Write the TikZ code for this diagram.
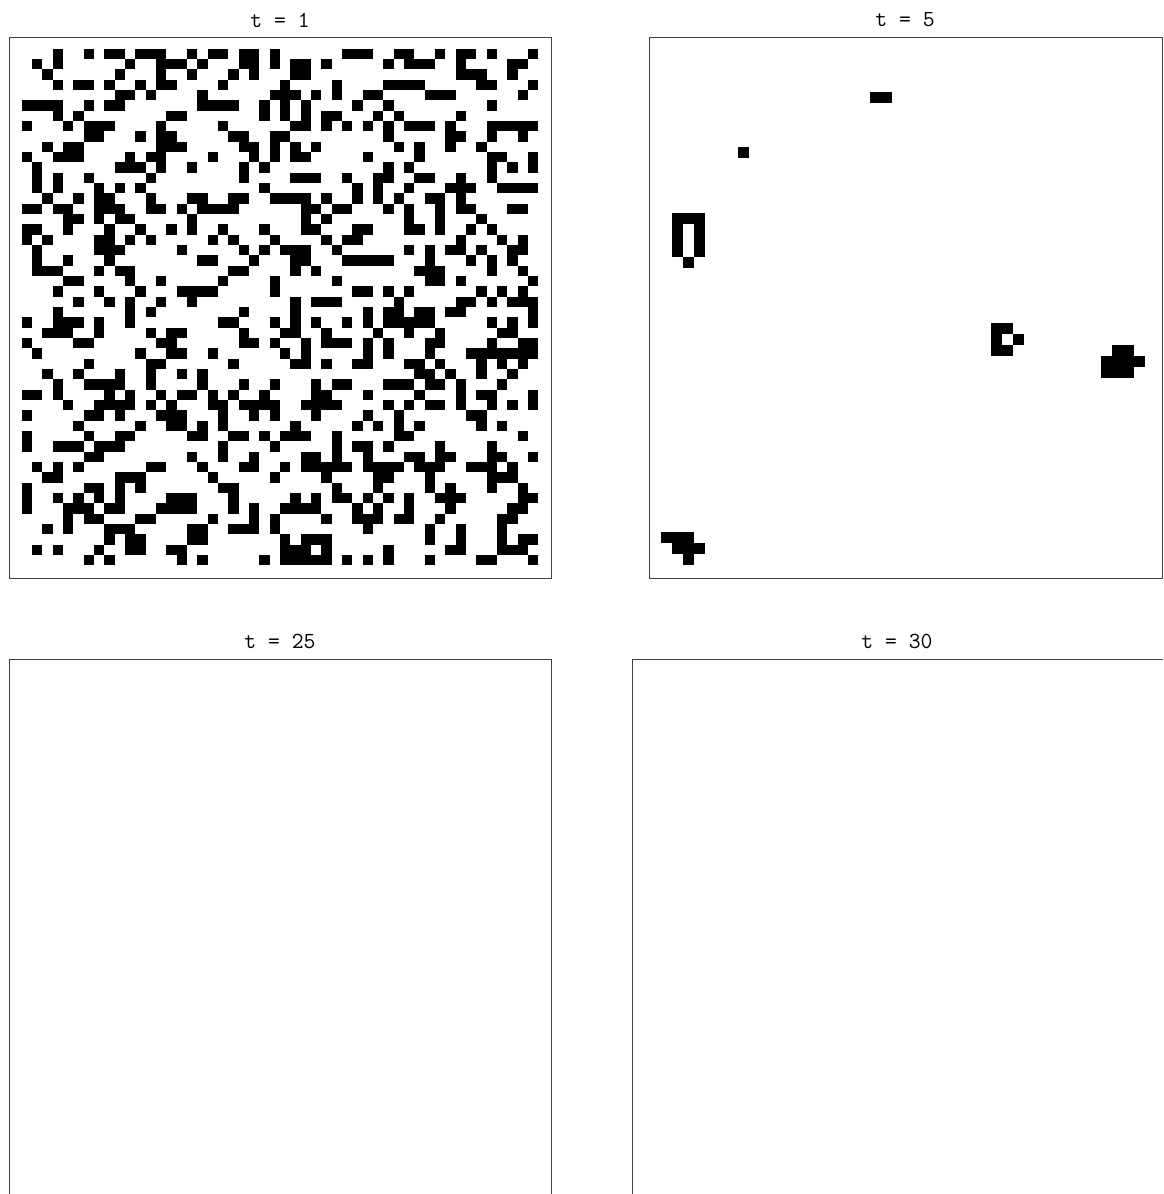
\documentclass[tikz,border=0pt]{standalone}
\usepackage{fontspec}
\begin{document}
\begin{tikzpicture}[x=1pt,y=-1pt,
  frame/.style={draw=black!75, line width=1pt},
  ttl/.style={font=\ttfamily\fontsize{23}{23}\selectfont, text=black, inner sep=0pt}]
\useasboundingbox (0,0) rectangle (1163,1194);
\fill[white] (0,0) rectangle (1163,1194);
% titles
\node[ttl] (t1) at (280,20) {t = 1};
\node[ttl] (t5) at (905,20) {t = 5};
\node[ttl] (t25) at (280,641) {t = 25};
\node[ttl] (t30) at (897,641) {t = 30};
% panel 1 cells
\foreach \r/\cs in {
0/{3,6,8,9,11,12,13,16,18,19,21,22,24,31,32,33,36,37,40,42,43,45,49},
1/{1,3,10,13,14,15,17,21,22,24,26,27,29,35,37,38,39,42,47,48},
2/{2,9,13,16,20,22,26,27,42,43,44,47},
3/{3,5,6,8,11,13,14,19,25,30,35,36,37,38,44,45,49},
4/{9,10,12,17,24,25,26,28,30,33,34,39,40,41,48},
5/{0,1,2,3,6,8,9,17,18,19,20,23,25,27,32,35,45},
6/{3,5,14,15,23,25,27,29,30,34,36,42},
7/{0,4,6,7,8,13,19,26,27,29,31,33,35,37,38,39,41,45,46,47,48,49},
8/{6,7,11,13,14,20,21,24,25,35,41,42,45,48},
9/{2,4,5,13,14,15,21,22,24,26,28,36,38,41,44},
10/{0,3,4,5,10,12,13,18,22,24,26,27,33,38,45,46,49},
11/{1,9,10,11,13,16,21,23,35,37,45,47,49},
12/{1,3,6,12,21,26,27,28,31,34,35,38,39,42,45},
13/{1,3,7,9,11,23,32,34,37,41,42,43,46,47,48,49},
14/{2,5,7,8,12,16,17,20,21,24,25,26,27,29,32,34,36,39,40,42},
15/{0,1,3,4,7,8,9,12,13,15,17,18,19,20,27,28,30,31,35,37,40,42,43,47,48},
16/{4,5,7,9,10,16,27,29,37,40,44},
17/{0,1,4,8,11,14,16,19,23,27,28,32,33,37,38,40,43,45},
18/{0,2,7,8,10,12,18,20,24,29,31,32,42,46,48},
19/{1,7,8,9,15,21,23,25,26,27,30,37,39,41,42,44,47,48},
20/{1,4,8,17,18,22,26,27,31,32,33,34,35,39,43,45,47},
21/{1,2,3,7,9,10,20,21,26,28,38,39,40,45,48},
22/{4,5,10,13,19,24,30,39,40,42,49},
23/{3,7,11,15,16,17,18,24,32,33,35,37,44,46,48},
24/{5,8,10,13,16,26,28,29,30,36,42,43,45,47,48,49},
25/{3,10,12,21,26,33,35,36,38,39,41,42,49},
26/{0,3,4,5,7,10,19,20,24,26,28,31,33,35,36,37,38,39,45,47,49},
27/{2,3,4,7,12,14,15,21,25,26,29,34,37,40,46,47},
28/{0,5,6,13,14,21,22,24,27,29,30,31,33,35,39,40,45,48,49},
29/{1,11,14,15,18,25,27,33,35,39,43,44,45,46,47,48,49},
30/{6,12,13,20,26,27,29,32,33,37,38,40,44,46,48},
31/{2,5,9,12,15,17,38,39,41,44,47},
32/{3,6,7,8,9,12,17,21,24,28,30,31,35,36,37,39,40,42,46},
33/{0,1,3,8,10,13,15,16,18,20,23,28,29,33,38,42,44,45,49},
34/{4,7,8,9,10,12,14,18,19,21,22,23,24,27,28,29,30,35,37,39,40,42,45,47,49},
35/{0,6,7,9,13,14,15,19,22,24,28,33,36,43,44},
36/{5,11,14,15,17,19,26,32,34,36,38,44,46},
37/{0,6,9,10,16,17,20,21,23,25,26,27,30,36,37,48},
38/{0,3,4,5,7,8,9,19,24,30,32,33,35,40,45},
39/{6,7,16,19,22,27,28,30,33,37,38,40,41,45,46,49},
40/{1,3,5,12,13,17,21,22,25,27,28,29,30,31,33,34,35,36,38,39,40,43,44,45,47},
41/{2,3,9,10,11,18,24,29,34,35,39,45,46,47},
42/{0,6,7,9,11,19,20,30,34,39,41,45,48},
43/{0,3,5,7,9,14,15,16,20,26,28,30,31,33,35,37,40,41,42,48,49},
44/{0,4,5,6,8,9,13,14,15,16,20,22,25,26,27,28,32,34,37,41,47,48},
45/{4,6,7,11,12,18,22,24,29,32,33,34,36,37,40,46,47},
46/{2,4,8,9,10,16,17,20,21,22,24,33,39,42,46},
47/{8,10,11,16,17,25,27,28,29,39,42,46,48,49},
48/{1,3,7,10,11,14,15,25,26,27,29,35,41,42,46,47,48},
49/{6,8,15,17,23,25,26,27,28,29,31,33,35,39,44,45,49}}{
  \foreach \c in \cs {
    \fill[black] (21.67+10.33*\c, 48.67+10.33*\r) rectangle ++(10.45,10.45);
  }
}
% panel 2 cells
\foreach \j/\i in {19/0,20/0, 7/5,
  1/11,2/11,3/11, 1/12,3/12, 1/13,3/13, 1/14,3/14, 2/15,
  30/21,31/21, 30/22,32/22, 30/23,31/23,
  41/23,42/23, 40/24,41/24,42/24,43/24, 40/25,41/25,42/25,
  0/40,1/40,2/40, 1/41,2/41,3/41, 2/42}{
  \fill[black] (661+11*\j, 92+11*\i) rectangle ++(11.1,11.1);
}
% frames
\draw[frame] (9,37) rectangle (551,578);
\draw[frame] (649,37) rectangle (1162,578);
\draw[frame] (9,1194) -- (9,659) -- (551,659) -- (551,1194);
\draw[frame] (632,1194) -- (632,659) -- (1163,659);
\end{tikzpicture}
\end{document}
